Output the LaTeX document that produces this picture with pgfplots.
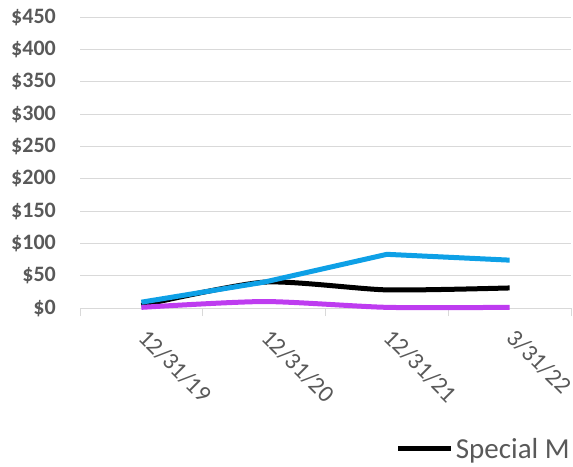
\documentclass[border=0pt]{standalone}
\usepackage{pgfplots}
\pgfplotsset{compat=1.18}
\usepackage{fontspec}
\setmainfont{Carlito}
\definecolor{gridc}{HTML}{D9D9D9}
\definecolor{txt}{HTML}{595959}
\definecolor{cblue}{HTML}{0EA0E6}
\definecolor{cpurp}{HTML}{BE3CF0}
\begin{document}
\begin{tikzpicture}
\useasboundingbox (0,0) rectangle (573bp,467bp);
\begin{axis}[
  at={(80bp,159bp)}, anchor=south west,
  scale only axis, width=491bp, height=291bp,
  xmin=-0.5, xmax=3.5, ymin=0, ymax=450,
  ytick={0,50,...,450},
  yticklabels={\$0,\$50,\$100,\$150,\$200,\$250,\$300,\$350,\$400,\$450},
  xtick={0,1,2,3},
  xticklabels={12/31/19,12/31/20,12/31/21,3/31/22},
  minor xtick={-0.5,0.5,1.5,2.5,3.5},
  axis line style={draw=none},
  ymajorgrids,
  grid style={gridc, line width=1bp},
  major tick length=0pt,
  minor tick length=8bp,
  tick align=outside,
  tick pos=left,
  tick style={gridc, line width=1bp},
  yticklabel style={font=\fontsize{22bp}{26bp}\selectfont\bfseries, text=txt, anchor=east, inner sep=0pt, xshift=-24bp},
  xticklabel style={font=\fontsize{24bp}{28bp}\selectfont, text=txt, rotate=-45, anchor=north west, inner sep=0pt, xshift=19bp, yshift=-8bp},
  legend style={at={(0.643,-0.4845)}, anchor=west, draw=none, fill=none, inner sep=0pt,
     font=\fontsize{29bp}{30bp}\selectfont, text=txt},
  legend image code/.code={\draw[#1, line width=5bp] (0bp,0bp) -- (53bp,0bp);},
  clip=false,
]
\addplot[black, line width=5bp, smooth, tension=0.4] coordinates {(0,4) (1,40) (2,28) (3,31)};
\addlegendentry{Special M}
\addplot[cpurp, line width=5bp, smooth, tension=0.4, forget plot] coordinates {(0,1) (1,10) (2,1) (3,1)};
\addplot[cblue, line width=5bp, forget plot] coordinates {(0,9) (1,40) (2,83) (3,74)};
\end{axis}
\end{tikzpicture}
\end{document}
